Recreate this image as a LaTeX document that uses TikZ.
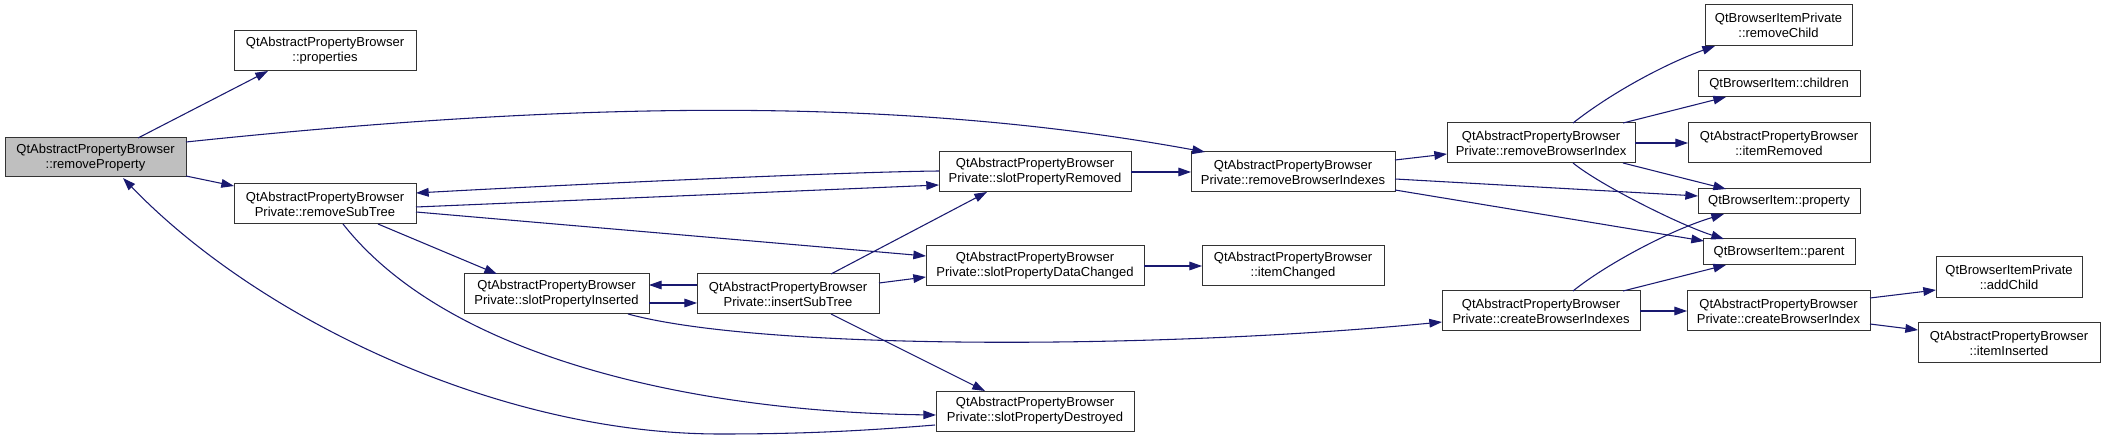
\documentclass[tikz,border=0pt]{standalone}
\usepackage{fontspec}
\setmainfont{Liberation Sans}
\usetikzlibrary{arrows.meta,calc}
\definecolor{navyc}{HTML}{191970}
\definecolor{boxline}{HTML}{333333}
\definecolor{grayfill}{HTML}{BFBFBF}
\begin{document}
\begin{tikzpicture}[x=0.75pt,y=-0.75pt,
  box/.style={draw=boxline, fill=white, line width=0.75pt, inner sep=0pt, align=center,
    font=\fontsize{9.75}{11.25}\selectfont},
  sz/.style 2 args={minimum width=#1*0.75pt, minimum height=#2*0.75pt},
  call/.style={draw=navyc, line width=0.8pt, -{Triangle[length=9.5pt,width=6.5pt]}, navyc}]
\useasboundingbox (0,0) rectangle (2105,441);
\fill[white] (0,0) rectangle (2105,441);
% nodes
\node[box, fill=grayfill, sz={181}{39}] (rp) at (95.5,157.5) {QtAbstractPropertyBrowser\\::removeProperty};
\node[box, sz={182}{40}] (props) at (325,51) {QtAbstractPropertyBrowser\\::properties};
\node[box, sz={182}{40}] (rst) at (325,204) {QtAbstractPropertyBrowser\\Private::removeSubTree};
\node[box, sz={185}{40}] (spi) at (556.5,294) {QtAbstractPropertyBrowser\\Private::slotPropertyInserted};
\node[box, sz={182}{40}] (ist) at (788,294) {QtAbstractPropertyBrowser\\Private::insertSubTree};
\node[box, sz={192}{40}] (spr) at (1035,172) {QtAbstractPropertyBrowser\\Private::slotPropertyRemoved};
\node[box, sz={218}{40}] (spdc) at (1035,266) {QtAbstractPropertyBrowser\\Private::slotPropertyDataChanged};
\node[box, sz={198}{40}] (spd) at (1035,411) {QtAbstractPropertyBrowser\\Private::slotPropertyDestroyed};
\node[box, sz={204}{40}] (rbis) at (1293,172) {QtAbstractPropertyBrowser\\Private::removeBrowserIndexes};
\node[box, sz={182}{40}] (ic) at (1293,266) {QtAbstractPropertyBrowser\\::itemChanged};
\node[box, sz={188}{40}] (rbi) at (1541,143) {QtAbstractPropertyBrowser\\Private::removeBrowserIndex};
\node[box, sz={198}{40}] (cbis) at (1541,311) {QtAbstractPropertyBrowser\\Private::createBrowserIndexes};
\node[box, sz={147}{41}] (rc) at (1778.5,25.5) {QtBrowserItemPrivate\\::removeChild};
\node[box, sz={162}{26}] (ch) at (1779,84) {QtBrowserItem::children};
\node[box, sz={182}{40}] (ir) at (1779,143) {QtAbstractPropertyBrowser\\::itemRemoved};
\node[box, sz={162}{25}] (pr) at (1779,201.5) {QtBrowserItem::property};
\node[box, sz={152}{26}] (pa) at (1779,252) {QtBrowserItem::parent};
\node[box, sz={183}{40}] (cbi) at (1778.5,311) {QtAbstractPropertyBrowser\\Private::createBrowserIndex};
\node[box, sz={146}{41}] (ac) at (2009,277.5) {QtBrowserItemPrivate\\::addChild};
\node[box, sz={182}{40}] (ii) at (2009,343) {QtAbstractPropertyBrowser\\::itemInserted};
% edges
\draw[call] ($(rp)+(42.5,-19.5)$) -- ($(props)+(-57,20)$);
\draw[call] ($(rp)+(90.5,-15.5)$) .. controls (586,100) and (905,97) .. ($(rbis)+(-88,-20)$);
\draw[call] ($(rp)+(90.5,18.5)$) -- ($(rst)+(-91,-18)$);
\draw[call] ($(spd)+(-100,14)$) .. controls (850,432) and (790,434) .. (720,434)
  .. controls (500,434) and (260,320) .. ($(rp)+(27.5,20.5)$);
\draw[call] ($(spr)+(-96,-1)$) .. controls (840,172) and (560,185) .. ($(rst)+(91,-11)$);
\draw[call] ($(rst)+(91,3)$) -- ($(spr)+(-96,13)$);
\draw[call] ($(rst)+(91,8)$) -- ($(spdc)+(-109,-10)$);
\draw[call] ($(rst)+(53,20)$) -- ($(spi)+(-59.5,-20)$);
\draw[call] ($(rst)+(18,20)$) .. controls (450,360) and (700,412) .. ($(spd)+(-99,4)$);
\draw[call] ($(spi)+(92.5,9)$) -- ($(ist)+(-91,9)$);
\draw[call] ($(ist)+(-91,-9)$) -- ($(spi)+(92.5,-9)$);
\draw[call] ($(ist)+(43,-20)$) -- ($(spr)+(-48,20)$);
\draw[call] ($(ist)+(91,-11)$) -- ($(spdc)+(-109,11)$);
\draw[call] ($(ist)+(43,20)$) -- ($(spd)+(-50,-20)$);
\draw[call] ($(spi)+(71.5,20)$) .. controls (760,350) and (1150,350) .. ($(cbis)+(-99,11)$);
\draw[call] ($(spr)+(96,0)$) -- ($(rbis)+(-102,0)$);
\draw[call] ($(spdc)+(109,0)$) -- ($(ic)+(-91,0)$);
\draw[call] ($(rbis)+(102,-12)$) -- ($(rbi)+(-94,11)$);
\draw[call] ($(rbis)+(102,7)$) -- ($(pr)+(-81,-5.5)$);
\draw[call] ($(rbis)+(102,18)$) -- ($(pa)+(-75,-11)$);
\draw[call] ($(rbi)+(32,-20)$) .. controls (1615,90) and (1670,62) .. ($(rc)+(-63.5,20.5)$);
\draw[call] ($(rbi)+(82,-20)$) -- ($(ch)+(-53,13)$);
\draw[call] ($(rbi)+(94,0)$) -- ($(ir)+(-91,0)$);
\draw[call] ($(rbi)+(82,20)$) -- ($(pr)+(-53,-12.5)$);
\draw[call] ($(rbi)+(32,20)$) .. controls (1600,185) and (1680,225) .. ($(pa)+(-55,-13)$);
\draw[call] ($(cbis)+(32,-20)$) .. controls (1605,265) and (1670,230) .. ($(pr)+(-55,12.5)$);
\draw[call] ($(cbis)+(82,-20)$) -- ($(pa)+(-53,13)$);
\draw[call] ($(cbis)+(99,0)$) -- ($(cbi)+(-91.5,0)$);
\draw[call] ($(cbi)+(91.5,-13)$) -- ($(ac)+(-73,12.5)$);
\draw[call] ($(cbi)+(91.5,13)$) -- ($(ii)+(-91,-13)$);
\end{tikzpicture}
\end{document}
